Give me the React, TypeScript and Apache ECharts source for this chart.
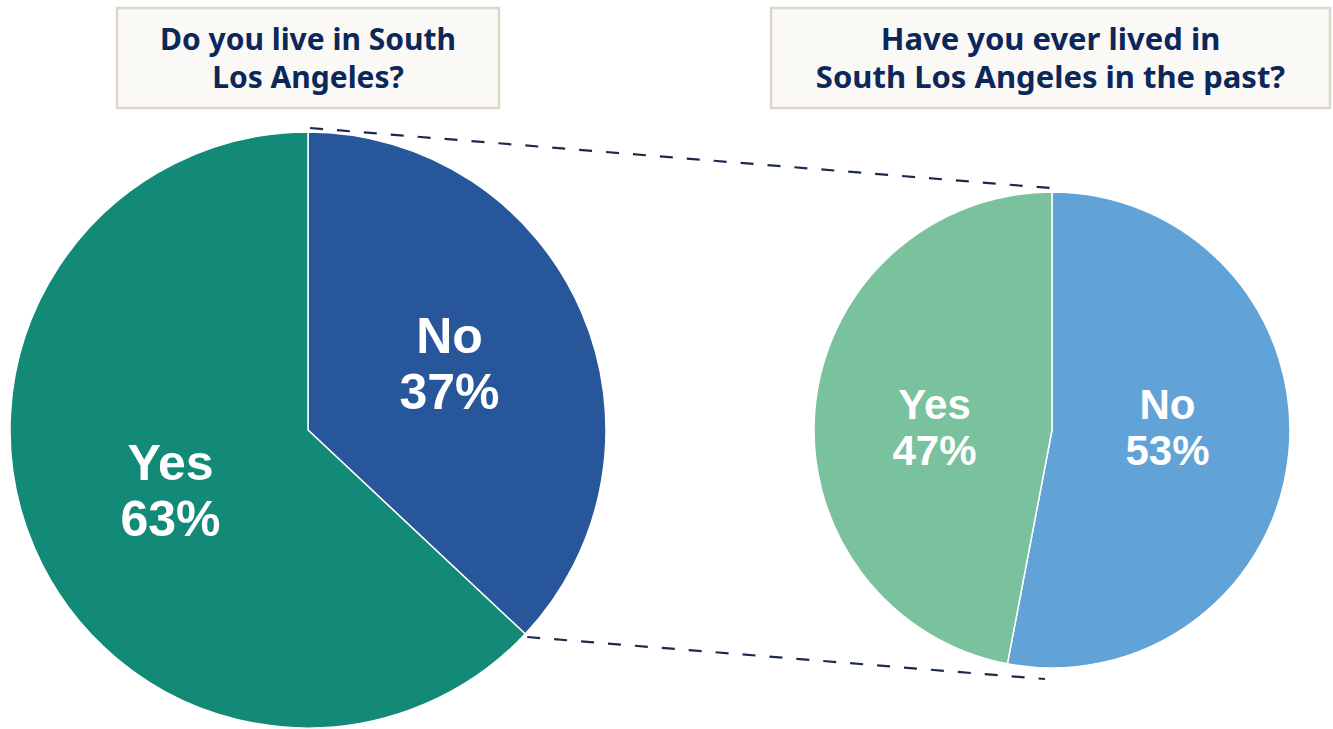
import React, { useEffect, useRef } from "react";
import * as echarts from "echarts";

const leftTitle = ["Do you live in South", "Los Angeles?"];
const rightTitle = ["Have you ever lived in", "South Los Angeles in the past?"];
const leftCategories = ["No", "Yes"];
const leftValues = [37, 63];
const leftColors = ["#27569A", "#138A77"];
const rightCategories = ["No", "Yes"];
const rightValues = [53, 47];
const rightColors = ["#62A3D7", "#79C29D"];

const W = 1333;
const H = 729;
const L = { cx: 308, cy: 430, r: 298 };
const R = { cx: 1052, cy: 430, r: 238 };
const leftOffsets = [[2, -6], [2, 1]];
const rightOffsets = [[-6, -14], [4, 9]];

export default function App() {
  const ref = useRef<HTMLDivElement>(null);
  useEffect(() => {
    if (!ref.current) return;
    const chart = echarts.init(ref.current, null, { renderer: "svg", width: W, height: H });
    const titleColor = "#0C285A";
    const titleFont = '"Noto Sans", "Open Sans", sans-serif';

    const leftFrac = leftValues[0] / (leftValues[0] + leftValues[1]);
    const ang = Math.PI / 2 - leftFrac * 2 * Math.PI;
    const bx = L.cx + L.r * Math.cos(ang);
    const by = L.cy - L.r * Math.sin(ang);

    const box = (x: number, w: number, lines: string[], size: number) => ({
      type: "group",
      children: [
        {
          type: "rect",
          shape: { x, y: 8, width: w, height: 100 },
          style: { fill: "#FAF9F6", stroke: "#DDD6CB", lineWidth: 2.5 },
        },
        {
          type: "text",
          x: x + w / 2,
          y: 57,
          style: {
            text: lines.join("\n"),
            font: `bold ${size}px ${titleFont}`,
            fill: titleColor,
            align: "center",
            verticalAlign: "middle",
            lineHeight: 38,
          },
        },
      ],
    });

    const labelRich = (size: number, lh: number) => ({
      show: true,
      position: "inside" as const,
      formatter: "{b}\n{c}%",
      color: "#fff",
      fontSize: size,
      fontWeight: "bold" as const,
      fontFamily: '"Liberation Sans", Arial, sans-serif',
      lineHeight: lh,
    });

    chart.setOption({
      animation: false,
      backgroundColor: "#ffffff",
      graphic: [
        box(117, 382, leftTitle, 30),
        box(771, 559, rightTitle, 31),
        {
          type: "line",
          shape: { x1: L.cx + 2, y1: L.cy - L.r - 4, x2: R.cx - 2, y2: R.cy - R.r - 4 },
          style: { stroke: "#1B2A4E", lineWidth: 2.2, lineDash: [13, 14] },
          z: 10,
        },
        {
          type: "line",
          shape: { x1: bx + 2, y1: by + 3, x2: R.cx - 7, y2: R.cy + R.r + 11 },
          style: { stroke: "#1B2A4E", lineWidth: 2.2, lineDash: [13, 14] },
          z: 10,
        },
      ],
      series: [
        {
          type: "pie",
          center: [L.cx, L.cy],
          radius: [0, L.r],
          startAngle: 90,
          clockwise: true,
          silent: true,
          label: labelRich(50, 56),
          labelLine: { show: false },
          itemStyle: { borderColor: "#ffffff", borderWidth: 1.5 },
          data: leftCategories.map((n, i) => ({
            name: n,
            value: leftValues[i],
            itemStyle: { color: leftColors[i] },
            label: { offset: leftOffsets[i] },
          })),
        },
        {
          type: "pie",
          center: [R.cx, R.cy],
          radius: [0, R.r],
          startAngle: 90,
          clockwise: true,
          silent: true,
          label: labelRich(42, 46),
          labelLine: { show: false },
          itemStyle: { borderColor: "#ffffff", borderWidth: 1.5 },
          data: rightCategories.map((n, i) => ({
            name: n,
            value: rightValues[i],
            itemStyle: { color: rightColors[i] },
            label: { offset: rightOffsets[i] },
          })),
        },
      ],
    });
    return () => chart.dispose();
  }, []);
  return (
    <div
      ref={ref}
      style={{ position: "fixed", left: 0, top: 0, width: W, height: H }}
    />
  );
}
